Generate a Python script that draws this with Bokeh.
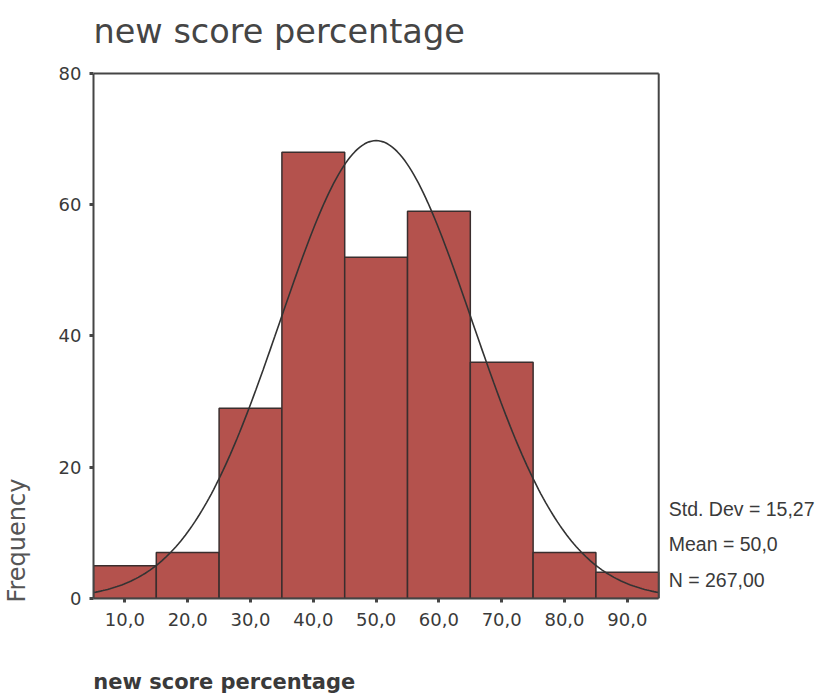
import numpy as np
from bokeh.plotting import figure
from bokeh.models import Range1d, FixedTicker, Label, ColumnDataSource, LinearAxis
from bokeh.embed import file_html
from bokeh.resources import INLINE

# ---- data ----
bin_centers = [10, 20, 30, 40, 50, 60, 70, 80, 90]
frequencies = [5, 7, 29, 68, 52, 59, 36, 7, 4]
x_tick_labels = ["10,0", "20,0", "30,0", "40,0", "50,0", "60,0", "70,0", "80,0", "90,0"]
y_ticks = [0, 20, 40, 60, 80]
bin_width = 10.0
std_dev = 15.27
mean_value = 50.0
n_total = 267
stats_lines = ["Std. Dev = 15,27", "Mean = 50,0", "N = 267,00"]
title_text = "new score percentage"
x_label_text = "new score percentage"
y_label_text = "Frequency"

X_MIN, X_MAX = 5, 95
Y_MIN, Y_MAX = 0, 80

# ---- layout (canvas pixels) ----
W, H = 819, 696
FL, FB = 92, 599          # left / bottom of the histogram box
BOX_R, BOX_T = 658, 73    # right / top of the histogram box
PX_X = (BOX_R - FL) / (X_MAX - X_MIN)
PX_Y = (FB - BOX_T) / (Y_MAX - Y_MIN)

def dx(px):
    return X_MIN + (px - FL) / PX_X

def dy(py):
    return Y_MIN + (FB - py) / PX_Y

TXT = "#3a3a3a"
FONT = "DejaVu Sans"
EDGE = "#454545"

# frame extends to the right and top so that the title and statistics are inside it
p = figure(width=W, height=H, output_backend="svg", toolbar_location=None,
           x_range=Range1d(X_MIN, dx(W)), y_range=Range1d(Y_MIN, dy(0)),
           min_border_left=FL, min_border_right=0,
           min_border_top=0, min_border_bottom=H - FB)
p.background_fill_color = "white"
p.border_fill_color = "white"
p.outline_line_color = None
p.grid.visible = False

bars = ColumnDataSource(dict(x=bin_centers, top=frequencies))
p.vbar(x="x", top="top", bottom=0, width=bin_width, source=bars,
       fill_color="#b4524d", line_color="#3a2e2e", line_width=1.5)

# fitted normal curve from the displayed statistics
xs = np.linspace(X_MIN, X_MAX, 241)
ys = n_total * bin_width / (std_dev * np.sqrt(2 * np.pi)) * np.exp(-0.5 * ((xs - mean_value) / std_dev) ** 2)
p.line(xs, ys, line_color="#333333", line_width=1.6)

# top and right edges of the histogram box
p.segment(x0=[X_MIN, X_MAX], y0=[Y_MAX, Y_MIN], x1=[X_MAX, X_MAX], y1=[Y_MAX, Y_MAX],
          line_color=EDGE, line_width=2)

# axes
p.xaxis.ticker = FixedTicker(ticks=bin_centers)
p.xaxis.major_label_overrides = {c: l for c, l in zip(bin_centers, x_tick_labels)}
p.xaxis.bounds = (X_MIN, X_MAX)
p.yaxis.ticker = FixedTicker(ticks=y_ticks)
p.yaxis.bounds = (Y_MIN, Y_MAX)
for ax in (p.xaxis[0], p.yaxis[0]):
    ax.axis_line_color = EDGE
    ax.axis_line_width = 2
    ax.major_tick_line_color = EDGE
    ax.major_tick_line_width = 3
    ax.major_tick_in = 0
    ax.major_tick_out = 4
    ax.minor_tick_line_color = None
    ax.major_label_text_font = FONT
    ax.major_label_text_font_size = "18px"
    ax.major_label_text_color = TXT
p.xaxis.major_label_standoff = 10
p.yaxis.major_label_standoff = 8

# axis titles, placed as single labels of outer axes so they sit where the reference has them
x_title_pos = dx(FL + 131)
x_title_axis = LinearAxis(ticker=FixedTicker(ticks=[x_title_pos]),
                          major_label_overrides={x_title_pos: x_label_text},
                          axis_line_color=None, major_tick_line_color=None,
                          minor_tick_line_color=None, major_label_standoff=35,
                          major_label_text_font=FONT, major_label_text_font_size="21px",
                          major_label_text_font_style="bold", major_label_text_color=TXT)
p.add_layout(x_title_axis, "below")

y_title_pos = dy(541)
y_title_axis = LinearAxis(ticker=FixedTicker(ticks=[y_title_pos]),
                          major_label_overrides={y_title_pos: y_label_text},
                          major_label_orientation="vertical",
                          axis_line_color=None, major_tick_line_color=None,
                          minor_tick_line_color=None, major_label_standoff=18,
                          major_label_text_font=FONT, major_label_text_font_size="24px",
                          major_label_text_color="#555555")
p.add_layout(y_title_axis, "left")

# title and statistics (inside the extended frame)
p.add_layout(Label(x=dx(FL), y=dy(31), text=title_text, text_font=FONT,
                   text_font_size="33.5px", text_color=EDGE,
                   text_baseline="alphabetic", text_align="left"))
for i, line in enumerate(stats_lines):
    p.add_layout(Label(x=dx(668), y=dy(509 + 35.5 * i), text=line,
                       text_font="Liberation Sans", text_font_size="19.5px", text_color=TXT,
                       text_baseline="alphabetic", text_align="left"))

open("out.html", "w").write(file_html(p, INLINE))
